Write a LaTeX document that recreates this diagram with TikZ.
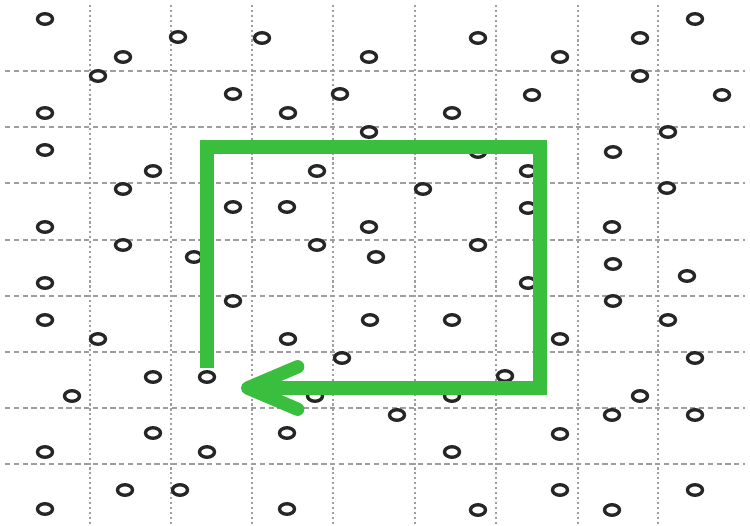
\documentclass[tikz,border=0pt]{standalone}
\usepackage{tikz}
\usepackage{xcolor}
\usetikzlibrary{arrows.meta, shapes.geometric}
\definecolor{routegreen}{RGB}{58,190,62}

\begin{document}
\begin{tikzpicture}[
  x=0.02cm, y=-0.02cm,
  gridline/.style={draw=gray!75, line width=0.6pt},
  hline/.style={gridline, dash pattern=on 3pt off 2pt},
  vline/.style={gridline, dash pattern=on 1.2pt off 1.6pt},
  pt/.style={ellipse, draw=black!85, fill=white, line width=1.9pt,
             minimum width=0.30cm, minimum height=0.21cm, inner sep=0pt},
  route/.style={draw=routegreen, line width=7.6pt, line join=miter,
                -{Straight Barb[round, length=1.0cm, width=0.85cm]}},
]
\useasboundingbox (0,0) rectangle (750,526);
% grid
\foreach \y in {71,127,183,240,296,352,408,464}
  \draw[hline] (5,\y) -- (745,\y);
\foreach \x in {90,171,252,333,415,496,578,658}
  \draw[vline] (\x,5) -- (\x,524);
% points
\foreach \x/\y [count=\i] in {45/19, 178/37, 262/38, 123/57, 369/57, 98/76,
    233/94, 340/94, 45/113, 288/113, 369/132, 45/150, 153/171, 317/171,
    123/189, 233/207, 287/207, 45/227, 369/227, 123/245, 317/245, 194/257,
    376/257, 695/19, 478/38, 640/38, 560/57, 640/76, 532/95, 722/95,
    452/113, 668/132, 478/152, 613/152, 528/171, 423/189, 667/188, 528/208,
    612/227, 478/245, 613/264, 45/283, 233/301, 370/320, 45/320, 98/339,
    288/339, 342/358, 153/377, 207/377, 72/396, 315/396, 153/433, 287/433,
    45/452, 207/452, 125/490, 180/490, 45/509, 287/509, 687/276, 528/283,
    613/301, 452/320, 668/320, 560/339, 695/358, 505/376, 452/396, 640/396,
    397/415, 612/415, 695/415, 560/434, 452/452, 560/490, 695/490, 478/510,
    612/510}
  \node[pt] (p\i) at (\x,\y) {};
% route
\coordinate (start) at (207,368);
\coordinate (tl) at (207,147);
\coordinate (tr) at (540,147);
\coordinate (br) at (540,388);
\coordinate (tip) at (241,388);
\draw[route] (start) -- (tl) -- (tr) -- (br) -- (tip);
\end{tikzpicture}
\end{document}
